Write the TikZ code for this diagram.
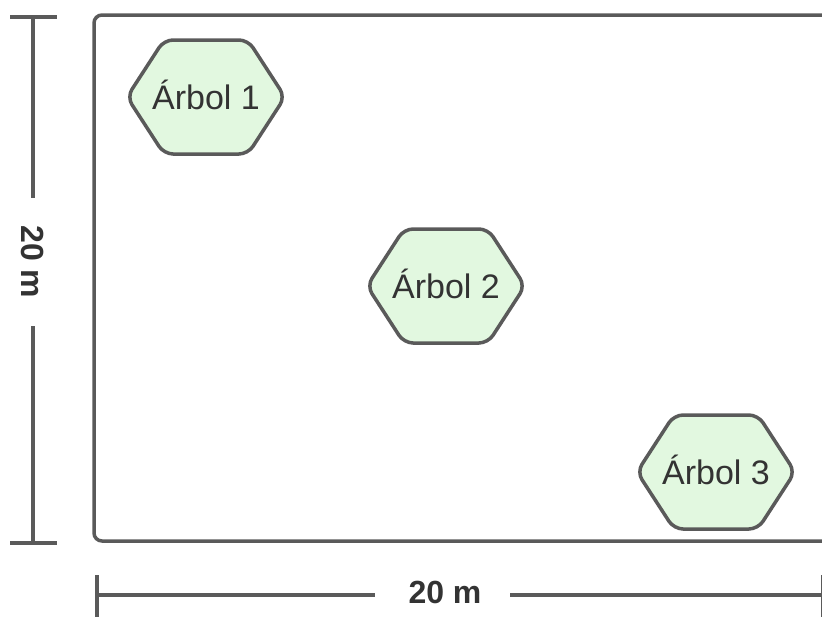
\documentclass[tikz,border=0pt]{standalone}
\usepackage{fontspec}
\setmainfont{Liberation Sans}
\definecolor{edge}{HTML}{5A5A5A}
\definecolor{leaf}{HTML}{E2F8E0}
\definecolor{ink}{HTML}{333333}
\begin{document}
\begin{tikzpicture}[x=1pt,y=-1pt,
  lineink/.style={draw=edge,line width=3.5pt},
  hexbox/.style={lineink,fill=leaf,rounded corners=9pt},
  treelabel/.style={text=ink,font=\fontsize{34}{40}\selectfont,inner sep=0pt},
  dimlabel/.style={text=ink,font=\bfseries\fontsize{32}{38}\selectfont,inner sep=0pt}]
\useasboundingbox (0,0) rectangle (822,616);
\clip (0,0) rectangle (822,616);
% field
\draw[lineink,rounded corners=8pt] (94,15) rectangle (840,541);
% hexagons
\newcommand\arbolhex[4]{%
  \draw[hexbox] (#1-79,#2) -- (#1-42,#2-57) -- (#1+42,#2-57) -- (#1+79,#2)
    -- (#1+42,#2+57) -- (#1-42,#2+57) -- cycle;
  \node[treelabel] (#3) at (#1,#2-2) {#4};}
\arbolhex{206}{97}{a1}{Árbol 1}
\arbolhex{446}{286}{a2}{Árbol 2}
\arbolhex{716}{472}{a3}{Árbol 3}
% vertical dimension
\coordinate (vt) at (33,17);
\coordinate (vb) at (33,543);
\node[dimlabel,rotate=-90] (vl) at (33,262) {20 m};
\draw[lineink] (10,17) -- (57,17);
\draw[lineink] (10,543) -- (57,543);
\draw[lineink] (vt) -- (33,198);
\draw[lineink] (33,326) -- (vb);
% horizontal dimension
\coordinate (hl) at (97,595);
\coordinate (hr) at (822,595);
\node[dimlabel] (hlab) at (445,592) {20 m};
\draw[lineink] (97,575) -- (97,620);
\draw[lineink] (hl) -- (375,595);
\draw[lineink] (510,595) -- (hr);
\draw[lineink] (823,575) -- (823,620);
\end{tikzpicture}
\end{document}
